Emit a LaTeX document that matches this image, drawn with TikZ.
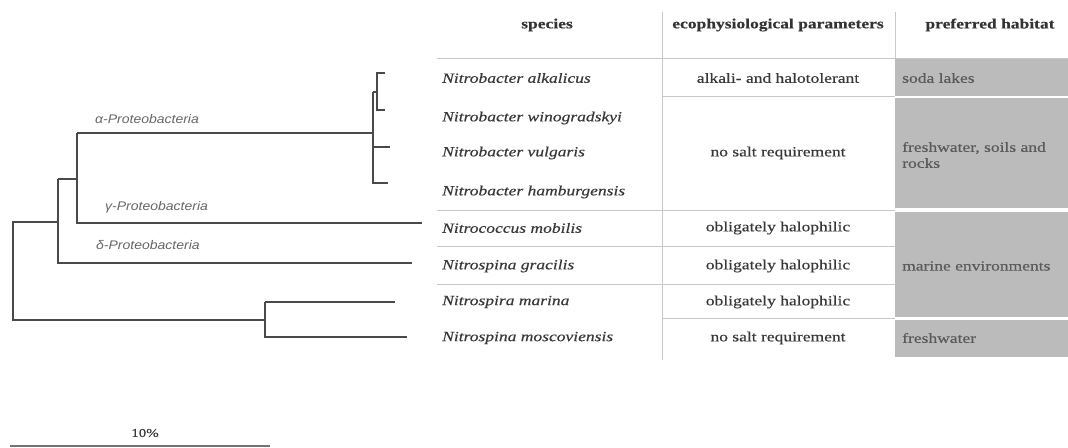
\documentclass[tikz,border=0pt]{standalone}
\usepackage{fontspec}
\setmainfont{Liberation Serif}
\newfontfamily\tblfont[FakeStretch=1.25,FakeBold=0.4]{Liberation Serif}
\newfontfamily\treefont[FakeStretch=1.12]{Liberation Sans}
\definecolor{branch}{HTML}{4A4A4A}
\definecolor{rule}{HTML}{C8C8C8}
\definecolor{habfill}{HTML}{BBBBBB}
\definecolor{habtext}{HTML}{5A5A5A}
\definecolor{cladetext}{HTML}{666666}
\begin{document}
\begin{tikzpicture}[x=1bp,y=-1bp,
  br/.style={draw=branch,line width=2.6bp},
  tl/.style={draw=rule,line width=0.9bp},
  clade/.style={anchor=west,inner sep=0,text=cladetext,font=\treefont\itshape\fontsize{12.5bp}{14bp}\selectfont},
  hdr/.style={inner sep=0,text=black!80,font=\tblfont\bfseries\fontsize{14bp}{16bp}\selectfont},
  sp/.style={anchor=west,inner sep=0,text=black!78,font=\tblfont\itshape\fontsize{14bp}{16bp}\selectfont},
  eco/.style={inner sep=0,text=black!78,font=\tblfont\fontsize{14bp}{16bp}\selectfont},
  hab/.style={anchor=west,inner sep=0,text=habtext,align=left,font=\tblfont\fontsize{14bp}{16bp}\selectfont},
  habbox/.style={fill=habfill,draw=none}]
\useasboundingbox (0,0) rectangle (1068,448);
% ---------- tree ----------
\coordinate (R1) at (13,222); \coordinate (R2) at (13,320);
\coordinate (P0) at (58,222); \coordinate (P1) at (58,179); \coordinate (P2) at (58,263);
\coordinate (G1) at (77,179);
\coordinate (AG1) at (77,133); \coordinate (AG2) at (77,223);
\coordinate (A0) at (373,133); \coordinate (A1) at (373,92); \coordinate (A2) at (373,147); \coordinate (A3) at (373,183);
\coordinate (W1) at (377,92); \coordinate (W2) at (377,73); \coordinate (W3) at (377,110);
\coordinate (lAlk) at (385,73); \coordinate (lWin) at (385,110);
\coordinate (lVul) at (390,147); \coordinate (lHam) at (388,183);
\coordinate (lCoc) at (422,223); \coordinate (lGra) at (412,263);
\coordinate (N0) at (265,320); \coordinate (N1) at (265,302); \coordinate (N2) at (265,337);
\coordinate (lMar) at (395,302); \coordinate (lMos) at (407,337);
\draw[br] (P0) -- (R1) -- (R2) -- (N0);
\draw[br] (P1) -- (P2) -- (lGra);
\draw[br] (P1) -- (G1);
\draw[br] (AG1) -- (AG2) -- (lCoc);
\draw[br] (AG1) -- (A0);
\draw[br] (A1) -- (A3) -- (lHam);
\draw[br] (A2) -- (lVul);
\draw[br] (A1) -- (W1);
\draw[br] (lAlk) -- (W2) -- (W3) -- (lWin);
\draw[br] (N1) -- (N2) -- (lMos);
\draw[br] (N1) -- (lMar);
\node[clade] (alpha) at (95,119) {α-Proteobacteria};
\node[clade] (gamma) at (105,207) {γ-Proteobacteria};
\node[clade] (delta) at (96,245) {δ-Proteobacteria};
% scale bar
\coordinate (S1) at (10,446); \coordinate (S2) at (270,446);
\draw[draw=black!55,line width=1.2bp] (S1) -- (S2);
\node[eco,font=\tblfont\fontsize{12bp}{14bp}\selectfont] (scale) at (145,433) {10\%};
% ---------- table ----------
\fill[habbox] (895,58) rectangle (1068,96);
\fill[habbox] (895,98) rectangle (1068,208);
\fill[habbox] (895,212) rectangle (1068,317);
\fill[habbox] (895,320) rectangle (1068,357);
\draw[tl] (437,58) -- (1068,58);
\draw[tl] (662,12) -- (662,360);
\draw[tl] (895,12) -- (895,58);
\foreach \yy in {210,246,284} {\draw[tl] (437,\yy) -- (662,\yy);}
\foreach \yy in {96,210,246,284,318} {\draw[tl] (662,\yy) -- (895,\yy);}
\node[hdr] (h1) at (547,25) {species};
\node[hdr] (h2) at (778,25) {ecophysiological parameters};
\node[hdr] (h3) at (990,25) {preferred habitat};
\node[sp] (s1) at (442,78) {Nitrobacter alkalicus};
\node[sp] (s2) at (442,118) {Nitrobacter winogradskyi};
\node[sp] (s3) at (442,153) {Nitrobacter vulgaris};
\node[sp] (s4) at (442,192) {Nitrobacter hamburgensis};
\node[sp] (s5) at (442,228) {Nitrococcus mobilis};
\node[sp] (s6) at (442,266) {Nitrospina gracilis};
\node[sp] (s7) at (442,302) {Nitrospira marina};
\node[sp] (s8) at (442,338) {Nitrospina moscoviensis};
\node[eco] (e1) at (778,78) {alkali- and halotolerant};
\node[eco] (e2) at (778,153) {no salt requirement};
\node[eco] (e3) at (778,228) {obligately halophilic};
\node[eco] (e4) at (778,266) {obligately halophilic};
\node[eco] (e5) at (778,302) {obligately halophilic};
\node[eco] (e6) at (778,338) {no salt requirement};
\node[hab] (p1) at (902,78) {soda lakes};
\node[hab] (p2) at (902,155) {freshwater, soils and\\rocks};
\node[hab] (p3) at (902,266) {marine environments};
\node[hab] (p4) at (902,338) {freshwater};
\end{tikzpicture}
\end{document}
